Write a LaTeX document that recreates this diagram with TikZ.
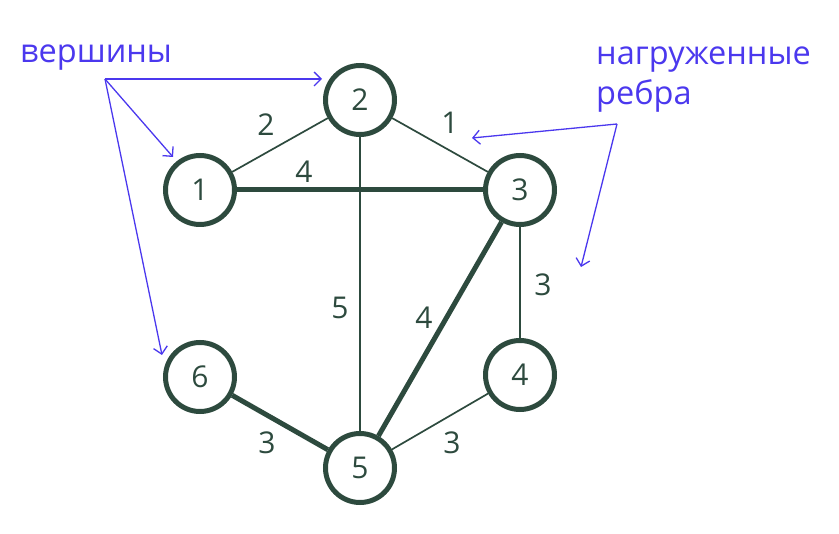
\documentclass[tikz,border=0pt]{standalone}
\usepackage{fontspec}
\setmainfont{Open Sans}
\usetikzlibrary{arrows.meta}

\definecolor{graphgreen}{RGB}{45,74,62}
\definecolor{notepurple}{RGB}{75,56,238}

\tikzset{
  vertex/.style={draw=graphgreen, circle, line width=5pt, minimum size=69pt, inner sep=0pt, text=graphgreen, font=\fontsize{30}{30}\selectfont},
  weight/.style={text=graphgreen, font=\fontsize{30}{30}\selectfont, inner sep=0pt},
  thinedge/.style={draw=graphgreen, line width=1.7pt},
  thickedge/.style={draw=graphgreen, line width=5pt},
  note/.style={text=notepurple, font=\fontsize{32.5}{40}\selectfont, inner sep=0pt, align=left},
  pointer/.style={draw=notepurple, line width=1.3pt, -{Straight Barb[length=7pt, width=14pt]}}
}

\begin{document}
\begin{tikzpicture}[x=1pt, y=-1pt]
    \useasboundingbox (0,0) rectangle (839,534);

    % vertices
    \node[vertex] (v1) at (200,190) {1};
    \node[vertex] (v2) at (360,100) {2};
    \node[vertex] (v3) at (520,190) {3};
    \node[vertex] (v4) at (520,375) {4};
    \node[vertex] (v5) at (360,468) {5};
    \node[vertex] (v6) at (200,377) {6};

    % edges
    \draw[thinedge] (v1) -- (v2);
    \draw[thinedge] (v2) -- (v3);
    \draw[thinedge] (v2) -- (v5);
    \draw[thinedge] (v3) -- (v4);
    \draw[thinedge] (v4) -- (v5);
    \draw[thickedge] (v1) -- (v3);
    \draw[thickedge] (v3) -- (v5);
    \draw[thickedge] (v6) -- (v5);

    % weights
    \node[weight] (w12) at (266,125) {2};
    \node[weight] (w23) at (450,123) {1};
    \node[weight] (w13) at (304,172) {4};
    \node[weight] (w25) at (340,308) {5};
    \node[weight] (w35) at (424,318) {4};
    \node[weight] (w34) at (543,285) {3};
    \node[weight] (w65) at (267,443) {3};
    \node[weight] (w45) at (452,443) {3};

    % notes
    \node[note, anchor=base west] (verts) at (20,63) {вершины};
    \node[note, anchor=base west] (edges) at (596,105) {нагруженные\\ребра};

    \coordinate (vfrom) at (105,79);
    \coordinate (efrom) at (617,124);
    \draw[pointer] (vfrom) -- (322,79);
    \draw[pointer] (vfrom) -- (173,157);
    \draw[pointer] (vfrom) -- (162,355);
    \draw[pointer] (efrom) -- (472,138);
    \draw[pointer] (efrom) -- (581,267);
\end{tikzpicture}
\end{document}
